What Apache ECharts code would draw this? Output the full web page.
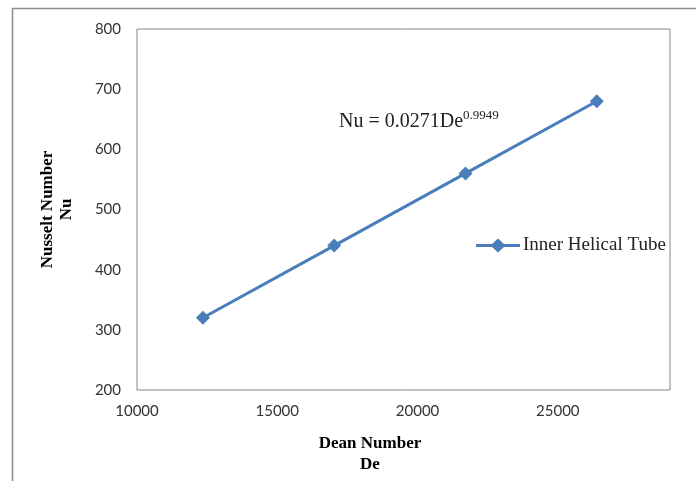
<!DOCTYPE html>
<html>
<head>
<meta charset="utf-8">
<script src="https://cdn.jsdelivr.net/npm/echarts@6/dist/echarts.min.js"></script>
<style>html,body{margin:0;padding:0;background:#fff;}#c{width:696px;height:481px;}</style>
</head>
<body>
<div id="c"></div>
<script>
const deanNumber = [12350, 17030, 21710, 26390];
const nusseltNumber = [320, 440, 560, 680];
const seriesName = 'Inner Helical Tube';
const xTitle = 'Dean Number\nDe';
const yTitle = 'Nusselt Number\nNu';
const equation = ['Nu = 0.0271De', '0.9949'];

const chart = echarts.init(document.getElementById('c'), null, {renderer: 'canvas'});
const labelFont = {fontFamily: 'Lato', fontSize: 15, color: '#333'};
chart.setOption({
  animation: false,
  backgroundColor: '#fff',
  grid: {left: 137, top: 29, right: 26, bottom: 91, show: true, borderColor: '#868686', borderWidth: 1},
  xAxis: {
    type: 'value', min: 10000, max: 29000, interval: 5000,
    axisLine: {show: false}, axisTick: {show: false}, splitLine: {show: false},
    axisLabel: Object.assign({margin: 14, showMaxLabel: false, formatter: v => String(v)}, labelFont)
  },
  yAxis: {
    type: 'value', min: 200, max: 800, interval: 100,
    axisLine: {show: false}, axisTick: {show: false}, splitLine: {show: false},
    axisLabel: Object.assign({margin: 16, formatter: v => String(v)}, labelFont),
    name: yTitle, nameLocation: 'middle', nameGap: 61,
    nameTextStyle: {fontFamily: 'Liberation Serif', fontWeight: 'bold', fontSize: 17, color: '#000', lineHeight: 19}
  },
  legend: {
    left: 471, top: 231, itemWidth: 44, itemHeight: 14, itemGap: 2,
    textStyle: {fontFamily: 'Liberation Serif', fontSize: 19, color: '#222', padding: [0,0,0,-2]},
    data: [{name: seriesName, icon: 'path://M0,5.5L16,5.5L22,0L28,5.5L44,5.5L44,8.5L28,8.5L22,14L16,8.5L0,8.5Z'}]
  },
  graphic: [
    {type: 'rect', shape: {x: 12.5, y: 8.5, width: 720, height: 520}, style: {fill: 'none', stroke: '#8c8c8c', lineWidth: 1.5}, silent: true, z: -1},
    {type: 'text', left: 339, top: 109, style: {
      text: '{a|' + equation[0] + '}{b|' + equation[1] + '}',
      rich: {
        a: {fontFamily: 'Liberation Serif', fontSize: 20, fill: '#222', verticalAlign: 'bottom'},
        b: {fontFamily: 'Liberation Serif', fontSize: 13, fill: '#222', padding: [0,0,10,0], verticalAlign: 'bottom'}
      }
    }},
    {type: 'text', x: 370, y: 433, style: {
      text: xTitle, textAlign: 'center', textVerticalAlign: 'top',
      fontFamily: 'Liberation Serif', fontWeight: 'bold', fontSize: 17, fill: '#000', lineHeight: 21
    }}
  ],
  series: [{
    name: seriesName, type: 'line', data: deanNumber.map((d, i) => [d, nusseltNumber[i]]),
    symbol: 'diamond', symbolSize: 14, showSymbol: true,
    lineStyle: {color: '#4a7ebb', width: 3},
    itemStyle: {color: '#4a7ebb'}
  }]
});
</script>
</body>
</html>
